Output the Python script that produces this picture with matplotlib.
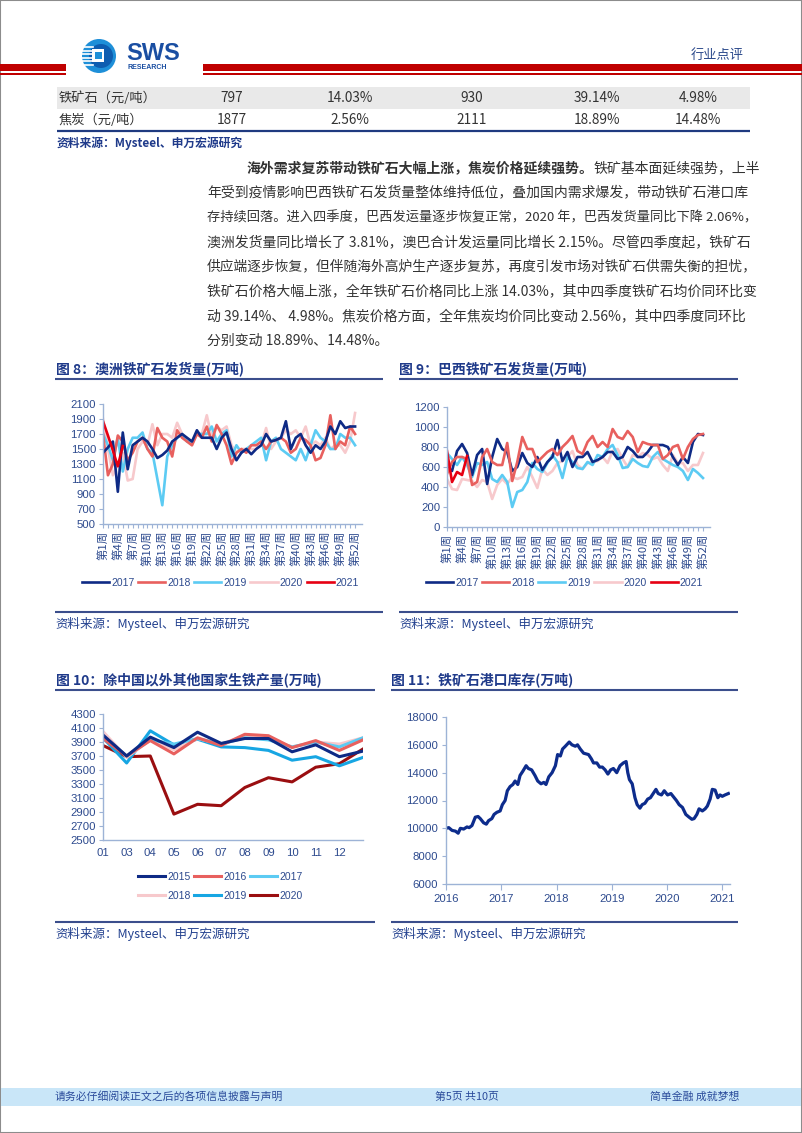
import matplotlib
matplotlib.use('Agg')
import matplotlib.pyplot as plt
from matplotlib.patches import Rectangle, Circle
from matplotlib.lines import Line2D

# ---------------- data ----------------
table_rows = ["铁矿石（元/吨）", "焦炭（元/吨）"]
table_vals = [["797", "14.03%", "930", "39.14%", "4.98%"],
              ["1877", "2.56%", "2111", "18.89%", "14.48%"]]

weeks = list(range(1, 53))
week_labels = [f"第{w}周" if (w - 1) % 3 == 0 else "" for w in weeks]

au_2017 = [1450, 1520, 1600, 930, 1720, 1230, 1550, 1600, 1650, 1600, 1500, 1380, 1420, 1480, 1600, 1650,
           1700, 1650, 1600, 1750, 1650, 1650, 1650, 1500, 1650, 1720, 1500, 1350, 1450, 1500, 1430, 1500,
           1550, 1700, 1600, 1620, 1650, 1870, 1500, 1650, 1700, 1550, 1450, 1550, 1500, 1600, 1800, 1700,
           1870, 1780, 1800, 1800]
au_2018 = [1700, 1150, 1300, 1680, 1600, 1350, 1450, 1600, 1650, 1500, 1400, 1780, 1650, 1600, 1400, 1750,
           1650, 1600, 1550, 1700, 1650, 1800, 1600, 1820, 1700, 1550, 1300, 1450, 1500, 1450, 1550, 1550,
           1600, 1500, 1600, 1620, 1650, 1600, 1450, 1500, 1650, 1620, 1550, 1350, 1380, 1550, 1950, 1500,
           1600, 1550, 1800, 1700]
au_2019 = [1700, 1550, 1350, 1650, 1200, 1500, 1650, 1650, 1720, 1500, 1450, 1100, 750, 1400, 1550, 1650,
           1700, 1600, 1600, 1700, 1700, 1700, 1800, 1600, 1700, 1750, 1400, 1550, 1450, 1500, 1550, 1600,
           1650, 1350, 1600, 1650, 1500, 1450, 1400, 1350, 1500, 1350, 1550, 1750, 1650, 1600, 1500, 1500,
           1700, 1650, 1650, 1550]
au_2020 = [1900, 1500, 1150, 1300, 1450, 1080, 1100, 1500, 1600, 1550, 1830, 1550, 1700, 1700, 1650, 1850,
           1700, 1600, 1550, 1700, 1700, 1950, 1650, 1800, 1750, 1800, 1550, 1450, 1500, 1500, 1500, 1500,
           1550, 1780, 1500, 1600, 1650, 1750, 1700, 1750, 1650, 1800, 1550, 1600, 1550, 1650, 1500, 1550,
           1550, 1450, 1600, 1980]
au_2021 = [1870, 1680, 1480, 1270, 1540]

br_2017 = [600, 560, 760, 830, 740, 520, 720, 780, 430, 700, 880, 780, 750, 560, 600, 740, 640, 600, 700,
           570, 650, 700, 870, 660, 750, 600, 700, 700, 750, 650, 670, 700, 750, 750, 680, 700, 800, 760,
           700, 700, 750, 820, 820, 820, 800, 700, 620, 700, 640, 850, 930, 920]
br_2018 = [530, 650, 700, 700, 680, 420, 450, 700, 780, 650, 620, 620, 840, 460, 650, 900, 780, 780, 650,
           700, 750, 780, 720, 800, 850, 910, 760, 730, 850, 910, 800, 850, 800, 980, 900, 880, 960, 900,
           750, 850, 830, 820, 820, 680, 720, 800, 820, 680, 800, 880, 920, 930]
br_2019 = [740, 680, 620, 700, 620, 500, 640, 620, 650, 480, 450, 520, 450, 200, 350, 370, 450, 640, 580,
           550, 640, 720, 650, 490, 700, 650, 590, 580, 650, 620, 720, 700, 780, 820, 720, 590, 600, 680,
           640, 610, 600, 700, 750, 680, 650, 620, 600, 560, 470, 580, 540, 490]
br_2020 = [480, 380, 370, 480, 470, 460, 400, 470, 450, 280, 420, 480, 430, 500, 480, 500, 600, 500, 390,
           580, 520, 560, 640, 660, 700, 760, 620, 580, 640, 650, 660, 700, 640, 760, 780, 680, 600, 720,
           700, 740, 720, 680, 700, 620, 560, 720, 640, 640, 560, 620, 620, 740]
br_2021 = [760, 450, 550, 520, 710]

months = ["01", "03", "04", "05", "06", "07", "08", "09", "10", "11", "12", ""]
pi_2015 = [4000, 3700, 3970, 3820, 4040, 3880, 3950, 3950, 3760, 3860, 3690, 3770]
pi_2016 = [3950, 3700, 3920, 3730, 3960, 3850, 4010, 3990, 3820, 3920, 3780, 3930]
pi_2017 = [3980, 3700, 3930, 3870, 3950, 3870, 3960, 3930, 3830, 3900, 3830, 3960]
pi_2018 = [4050, 3680, 3930, 3790, 3950, 3870, 3990, 3940, 3830, 3900, 3870, 3960]
pi_2019 = [3960, 3600, 4060, 3860, 3940, 3830, 3820, 3780, 3640, 3690, 3560, 3680]
pi_2020 = [3850, 3690, 3700, 2870, 3010, 2990, 3250, 3390, 3330, 3540, 3590, 3800]

inv_t = [2016.00, 2016.05, 2016.11, 2016.17, 2016.22, 2016.26, 2016.32, 2016.38, 2016.42, 2016.47,
         2016.53, 2016.58, 2016.62, 2016.68, 2016.73, 2016.77, 2016.83, 2016.87, 2016.92, 2016.98,
         2017.02, 2017.07, 2017.11, 2017.16, 2017.21, 2017.25, 2017.30, 2017.34, 2017.39, 2017.45,
         2017.49, 2017.55, 2017.61, 2017.66, 2017.72, 2017.77, 2017.81, 2017.86, 2017.92, 2017.98,
         2018.02, 2018.07, 2018.11, 2018.16, 2018.23, 2018.28, 2018.34, 2018.38, 2018.43, 2018.49,
         2018.58, 2018.63, 2018.67, 2018.73, 2018.78, 2018.83, 2018.88, 2018.93, 2018.98, 2019.03,
         2019.09, 2019.15, 2019.21, 2019.26, 2019.29, 2019.32, 2019.37, 2019.42, 2019.46, 2019.51,
         2019.55, 2019.60, 2019.65, 2019.70, 2019.75, 2019.80, 2019.84, 2019.90, 2019.95, 2020.01,
         2020.07, 2020.13, 2020.17, 2020.22, 2020.28, 2020.34, 2020.40, 2020.45, 2020.49, 2020.54,
         2020.58, 2020.64, 2020.69, 2020.73, 2020.78, 2020.82, 2020.87, 2020.92, 2020.96, 2021.00,
         2021.05, 2021.11]
inv_val = [10000, 10050, 9850, 9800, 9650, 10000, 9950, 10100, 10050, 10200,
           10800, 10850, 10700, 10400, 10300, 10550, 10700, 11000, 11150, 11250,
           11700, 12000, 12700, 13000, 13150, 13400, 13150, 13800, 14100, 14500,
           14300, 14200, 13800, 13400, 13200, 13300, 13150, 13700, 14000, 14500,
           15300, 15200, 15700, 15900, 16200, 16000, 15900, 16000, 15700, 15400,
           15300, 15000, 14700, 14700, 14400, 14400, 14200, 13900, 14200, 14300,
           14000, 14500, 14700, 14800, 14000, 13500, 13200, 12200, 11700, 11450,
           11700, 11800, 12100, 12200, 12500, 12800, 12500, 12400, 12700, 12400,
           12500, 12200, 12000, 11700, 11500, 11000, 10800, 10650, 10700, 11000,
           11400, 11250, 11400, 11600, 12100, 12800, 12750, 12200, 12400, 12300,
           12400, 12500]
inv_years = [2016, 2017, 2018, 2019, 2020, 2021]

# ---------------- styling ----------------
W, H = 802, 1133
fig = plt.figure(figsize=(W / 100, H / 100), dpi=100)
CJK = ['Noto Sans CJK SC', 'DejaVu Sans']
LAT = ['Liberation Sans', 'Noto Sans CJK SC']
plt.rcParams['font.family'] = CJK

NAVY = '#0E2A85'
SALMON = '#E8605E'
LBLUE = '#5CCBF3'
PINK = '#F7C9CC'
RED = '#E60012'
MBLUE = '#17A6E3'
DRED = '#9A0E10'
TXTB = '#23418F'
TICKC = '#2D4A8E'
SPINE = '#9DB3D6'
RULE = '#3B4E8C'
TICK_FS = 8.2
LEG_FS = 7.5


def fx(x):
    return x / W


def fy(y):
    return 1 - y / H


def T(x, y, s, size=9, color=TXTB, weight='normal', ha='left', va='center', family=CJK):
    return fig.text(fx(x), fy(y), s, fontsize=size, color=color, fontweight=weight,
                    ha=ha, va=va, family=family)


def hline(x0, x1, y, color=RULE, lw=1.5):
    fig.add_artist(Line2D([fx(x0), fx(x1)], [fy(y), fy(y)], transform=fig.transFigure,
                          color=color, lw=lw, solid_capstyle='butt'))


def rect(x0, y0, x1, y1, color):
    fig.add_artist(Rectangle((fx(x0), fy(y1)), (x1 - x0) / W, (y1 - y0) / H,
                             transform=fig.transFigure, facecolor=color, edgecolor='none'))


def axes_px(x0, y0, x1, y1):
    return fig.add_axes([fx(x0), fy(y1), (x1 - x0) / W, (y1 - y0) / H])


def style_ax(ax):
    for s in ['top', 'right']:
        ax.spines[s].set_visible(False)
    for s in ['left', 'bottom']:
        ax.spines[s].set_color(SPINE)
        ax.spines[s].set_linewidth(1.0)
    ax.tick_params(axis='both', colors=SPINE, labelcolor=TICKC, length=3, width=0.8,
                   labelsize=TICK_FS, pad=2)
    for lab in ax.get_yticklabels():
        lab.set_family(LAT)


def make_legend(ax, handles, labels, x, y, ncol, loc='center left', **kw):
    ax.legend(handles, labels, loc=loc, bbox_to_anchor=(fx(x), fy(y)),
              bbox_transform=fig.transFigure, ncol=ncol, frameon=False,
              handlelength=2.6, handletextpad=0.2, columnspacing=0.35, borderpad=0,
              borderaxespad=0, prop={'family': LAT, 'size': LEG_FS}, labelcolor=TICKC, **kw)


# ---------------- page frame / header ----------------
fig.add_artist(Rectangle((0, 0), 1, 1, transform=fig.transFigure, facecolor='none',
                         edgecolor='#8C8C8C', lw=1.5))
rect(0, 64, 66, 71, '#C00000')
rect(0, 73, 66, 75, '#C00000')
rect(203, 64, 802, 71, '#C00000')
rect(203, 73, 802, 75, '#C00000')

lg = axes_px(80, 34, 200, 78)
lg.set_xlim(80, 200)
lg.set_ylim(78, 34)
lg.axis('off')
lg.add_patch(Circle((99, 56), 17, facecolor='#1E8FD8', edgecolor='none'))
lg.add_patch(Circle((101, 56), 12, facecolor='#0E5DB0', edgecolor='none'))
for yy in [47, 50.5, 54, 57.5, 61, 64.5]:
    lg.plot([82, 93], [yy, yy], color='white', lw=1.2)
lg.add_patch(Rectangle((92, 49), 12, 13, facecolor='white', edgecolor='none'))
lg.add_patch(Rectangle((95, 52), 7, 7, facecolor='#1E8FD8', edgecolor='none'))
lg.text(126, 54, "SWS", fontsize=17, fontweight='bold', color='#1A4EA2', family=LAT,
        va='center', ha='left')
lg.text(128, 67.5, "RESEARCH", fontsize=5, fontweight='bold', color='#1A4EA2', family=LAT,
        va='center', ha='left')

T(717, 55, "行业点评", size=9.5, color='#2C4A8C', ha='center')

# ---------------- table ----------------
rect(57, 87, 750, 109, '#E9E9E9')
hline(57, 750, 131, color='#1F3A80', lw=1.6)
col_x = [232, 350, 472, 597, 698]
for r, (name, vals) in enumerate(zip(table_rows, table_vals)):
    yy = 98 + r * 22
    T(59, yy, name, size=9.5, color='#333333')
    for cx, v in zip(col_x, vals):
        T(cx, yy, v, size=9.8, color='#333333', ha='center')
T(57, 143, "资料来源：Mysteel、申万宏源研究", size=8.5, weight='bold', color='#1F3A8A')

# ---------------- paragraph ----------------
body_color = '#333333'
RIGHT_EDGE = 755
bold_part = "海外需求复苏带动铁矿石大幅上涨，焦炭价格延续强势。"
t_bold = T(247, 168, bold_part, size=10, weight='bold', color=body_color)
fig.canvas.draw()
renderer = fig.canvas.get_renderer()
bb = t_bold.get_window_extent(renderer=renderer)
T(bb.x1, 168, "铁矿基本面延续强势，上半", size=10, color=body_color)
lines = [
    "年受到疫情影响巴西铁矿石发货量整体维持低位，叠加国内需求爆发，带动铁矿石港口库",
    "存持续回落。进入四季度，巴西发运量逐步恢复正常，2020 年，巴西发货量同比下降 2.06%，",
    "澳洲发货量同比增长了 3.81%，澳巴合计发运量同比增长 2.15%。尽管四季度起，铁矿石",
    "供应端逐步恢复，但伴随海外高炉生产逐步复苏，再度引发市场对铁矿石供需失衡的担忧，",
    "铁矿石价格大幅上涨，全年铁矿石价格同比上涨 14.03%，其中四季度铁矿石均价同环比变",
    "动 39.14%、 4.98%。焦炭价格方面，全年焦炭均价同比变动 2.56%，其中四季度同环比",
    "分别变动 18.89%、14.48%。",
]
for i, s in enumerate(lines):
    t = T(207, 168 + (i + 1) * 24.7, s, size=10, color=body_color)
    if i < len(lines) - 1:
        w = t.get_window_extent(renderer=renderer).width
        target = RIGHT_EDGE - 207
        if w > target:
            t.set_fontsize(10 * target / w)

# ---------------- chart titles / rules ----------------
T(56, 369, "图 8：澳洲铁矿石发货量(万吨)", size=10, weight='bold', color='#1F3A8A')
hline(55, 383, 379)
T(399, 369, "图 9：巴西铁矿石发货量(万吨)", size=10, weight='bold', color='#1F3A8A')
hline(399, 738, 379)
hline(55, 383, 612)
T(55, 624, "资料来源：Mysteel、申万宏源研究", size=9, color=TXTB)
hline(399, 738, 612)
T(399, 624, "资料来源：Mysteel、申万宏源研究", size=9, color=TXTB)

T(56, 680, "图 10：除中国以外其他国家生铁产量(万吨)", size=10, weight='bold', color='#1F3A8A')
hline(55, 375, 690)
T(391, 680, "图 11：铁矿石港口库存(万吨)", size=10, weight='bold', color='#1F3A8A')
hline(391, 738, 690)
hline(55, 375, 922)
T(55, 934, "资料来源：Mysteel、申万宏源研究", size=9, color=TXTB)
hline(391, 738, 922)
T(391, 934, "资料来源：Mysteel、申万宏源研究", size=9, color=TXTB)


def weekly_chart(ax, series, names, colors, ylim, yticks, legend_x, legend_order):
    hd = {}
    for vals, nm, c in zip(series, names, colors):
        hd[nm], = ax.plot(weeks[:len(vals)], vals, color=c, lw=1.9, label=nm)
    ax.set_xlim(1, 53.4)
    ax.set_ylim(*ylim)
    ax.set_yticks(yticks)
    ax.set_xticks(weeks)
    ax.set_xticklabels(week_labels, rotation=90, fontsize=8.2, family=CJK, va='top')
    style_ax(ax)
    ax.tick_params(axis='x', length=3, labelsize=8.2, pad=2)
    make_legend(ax, [hd[n] for n in legend_order], legend_order, legend_x, 583, 5)


ax8 = axes_px(103, 404, 362, 524)
weekly_chart(ax8, [au_2020, au_2019, au_2018, au_2017, au_2021],
             ["2020", "2019", "2018", "2017", "2021"],
             [PINK, LBLUE, SALMON, NAVY, RED], (500, 2100), list(range(500, 2101, 200)), 82,
             ["2017", "2018", "2019", "2020", "2021"])

ax9 = axes_px(447, 407, 710, 527)
weekly_chart(ax9, [br_2020, br_2019, br_2017, br_2018, br_2021],
             ["2020", "2019", "2017", "2018", "2021"],
             [PINK, LBLUE, NAVY, SALMON, RED], (0, 1200), list(range(0, 1201, 200)), 426,
             ["2017", "2018", "2019", "2020", "2021"])

# ---------------- chart 10 ----------------
ax10 = axes_px(103, 714, 363, 840)
xi = list(range(len(months)))
pi_series = [pi_2015, pi_2016, pi_2017, pi_2018, pi_2019, pi_2020]
pi_names = ["2015", "2016", "2017", "2018", "2019", "2020"]
pi_colors = [NAVY, SALMON, LBLUE, PINK, MBLUE, DRED]
hd10 = {}
for vals, nm, c in zip(pi_series[::-1], pi_names[::-1], pi_colors[::-1]):
    hd10[nm], = ax10.plot(xi, vals, color=c, lw=2.2, label=nm)
ax10.set_xlim(0, len(months) - 1)
ax10.set_ylim(2500, 4300)
ax10.set_yticks(list(range(2500, 4301, 200)))
ax10.set_xticks(xi[:-1])
ax10.set_xticklabels(months[:-1], family=LAT)
style_ax(ax10)
ax10.tick_params(axis='x', length=0, pad=6, labelsize=TICK_FS)
leg_order = ["2015", "2018", "2016", "2019", "2017", "2020"]
make_legend(ax10, [hd10[n] for n in leg_order], leg_order, 138, 872, 3, loc='upper left',
            labelspacing=0.85)

# ---------------- chart 11 ----------------
ax11 = axes_px(446, 717, 730, 884)
ax11.plot(inv_t, inv_val, color='#0D2C8C', lw=2.3)
ax11.set_xlim(2016, 2021.14)
ax11.set_ylim(6000, 18000)
ax11.set_yticks(list(range(6000, 18001, 2000)))
ax11.set_xticks(inv_years)
ax11.set_xticklabels([str(y) for y in inv_years], family=LAT)
style_ax(ax11)
ax11.tick_params(axis='x', length=4, pad=3, labelsize=TICK_FS)
ax11.tick_params(axis='y', length=3, pad=3, labelsize=TICK_FS)

# ---------------- footer ----------------
rect(1, 1088, 801, 1106, '#C9E6F8')
T(55, 1097, "请务必仔细阅读正文之后的各项信息披露与声明", size=7.8, color='#2A4B9B')
T(467, 1097, "第5页 共10页", size=7.8, color='#2A4B9B', ha='center')
T(739, 1097, "简单金融 成就梦想", size=7.8, color='#2A4B9B', ha='right')

fig.savefig('out.png', dpi=100)
